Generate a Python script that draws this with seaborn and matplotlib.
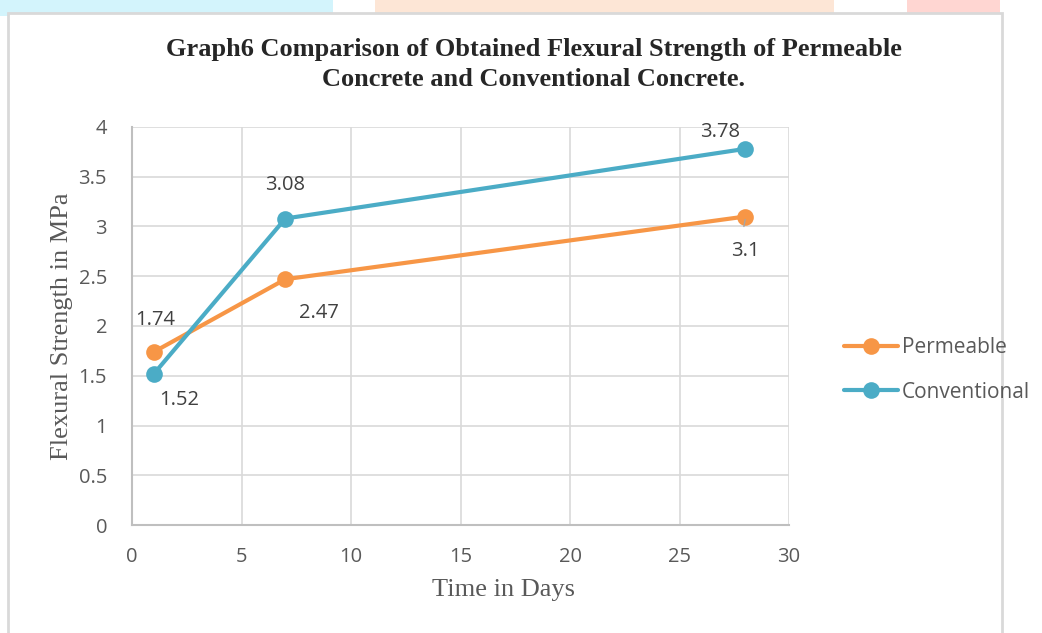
import matplotlib
matplotlib.use("Agg")
import matplotlib.pyplot as plt
import seaborn as sns
import pandas as pd
from matplotlib.patches import Rectangle

days = [1, 7, 28]
permeable = [1.74, 2.47, 3.1]
conventional = [1.52, 3.08, 3.78]
series_names = ["Permeable", "Conventional"]
colors = ["#F79646", "#4BACC6"]

title = "Graph6 Comparison of Obtained Flexural Strength of Permeable\nConcrete and Conventional Concrete."
xlabel = "Time in Days"
ylabel = "Flexural Strength in MPa"

df = pd.DataFrame({
    "Days": days * 2,
    "Strength": permeable + conventional,
    "Series": [series_names[0]] * len(days) + [series_names[1]] * len(days),
})

sns.set_theme(style="white")
plt.rcParams["font.family"] = ["Open Sans", "DejaVu Sans"]

fig = plt.figure(figsize=(10.42, 6.33), dpi=100)

# pastel page background strip and the white chart frame
fig.patches.append(Rectangle((0, 0.975), 0.32, 0.025, transform=fig.transFigure,
                             facecolor="#d3f4fc", edgecolor="none", zorder=-5))
fig.patches.append(Rectangle((0.36, 0.975), 0.44, 0.025, transform=fig.transFigure,
                             facecolor="#fde6d6", edgecolor="none", zorder=-5))
fig.patches.append(Rectangle((0.87, 0.975), 0.09, 0.025, transform=fig.transFigure,
                             facecolor="#ffd6d2", edgecolor="none", zorder=-5))
fig.patches.append(Rectangle((0.008, -0.01), 0.954, 0.99, transform=fig.transFigure,
                             facecolor="white", edgecolor="#d9d9d9", linewidth=2, zorder=-4))

ax = fig.add_axes([0.1267, 0.1706, 0.6305, 0.6288])
ax.set_facecolor("none")

sns.lineplot(data=df, x="Days", y="Strength", hue="Series", palette=colors,
             marker="o", markersize=12, markeredgewidth=0, linewidth=3,
             ax=ax, legend=True)

ax.set_xlim(0, 30)
ax.set_ylim(0, 4)
ax.set_xticks(range(0, 31, 5))
ax.set_yticks([0, 0.5, 1, 1.5, 2, 2.5, 3, 3.5, 4])
ax.set_yticklabels(["0", "0.5", "1", "1.5", "2", "2.5", "3", "3.5", "4"])
ax.grid(True, color="#d9d9d9", linewidth=1.2)
ax.set_axisbelow(True)
for side in ["top", "right"]:
    ax.spines[side].set_visible(False)
for side in ["left", "bottom"]:
    ax.spines[side].set_color("#bfbfbf")
    ax.spines[side].set_linewidth(1.5)
ax.tick_params(axis="both", length=0, labelsize=14.5, colors="#595959")
ax.tick_params(axis="x", pad=16)
ax.tick_params(axis="y", pad=18)

ax.set_xlabel(xlabel, family="Liberation Serif", fontsize=19, color="#595959")
ax.xaxis.set_label_coords(0.565, -0.135)
ax.set_ylabel(ylabel, family="Liberation Serif", fontsize=19, color="#595959", labelpad=4)
fig.suptitle(title, family="Liberation Serif", fontweight="bold", fontsize=19,
             x=0.512, y=0.94, linespacing=1.4)

# data labels
lbl = dict(fontsize=14.5, color="#404040", ha="center")
ax.annotate(f"{permeable[0]}", (days[0], permeable[0]), xytext=(1, 23), textcoords="offset points", va="center", **lbl)
ax.annotate(f"{permeable[1]}", (days[1], permeable[1]), xytext=(24, -24), textcoords="offset points", va="center", **lbl)
ax.annotate(f"{permeable[2]}", (days[2], permeable[2]), xytext=(0, -25), textcoords="offset points", va="center", **lbl)
ax.plot([days[2], days[2] - 0.06], [permeable[2] - 0.03, permeable[2] - 0.1], color="#a6a6a6", lw=1)
ax.annotate(f"{conventional[0]}", (days[0], conventional[0]), xytext=(18, -19), textcoords="offset points", va="center", **lbl)
ax.annotate(f"{conventional[1]}", (days[1], conventional[1]), xytext=(0, 24), textcoords="offset points", va="center", **lbl)
ax.annotate(f"{conventional[2]}", (days[2], conventional[2]), xytext=(-18, 12), textcoords="offset points", va="center", **lbl)

leg = ax.legend(loc="center left", bbox_to_anchor=(1.055, 0.39), frameon=False,
                fontsize=15, handlelength=2.6, handletextpad=0.2, labelspacing=1.15,
                labelcolor="#595959")
for h in leg.legend_handles:
    h.set_markersize(12)
    h.set_linewidth(3)

fig.savefig("out.png", dpi=100)
